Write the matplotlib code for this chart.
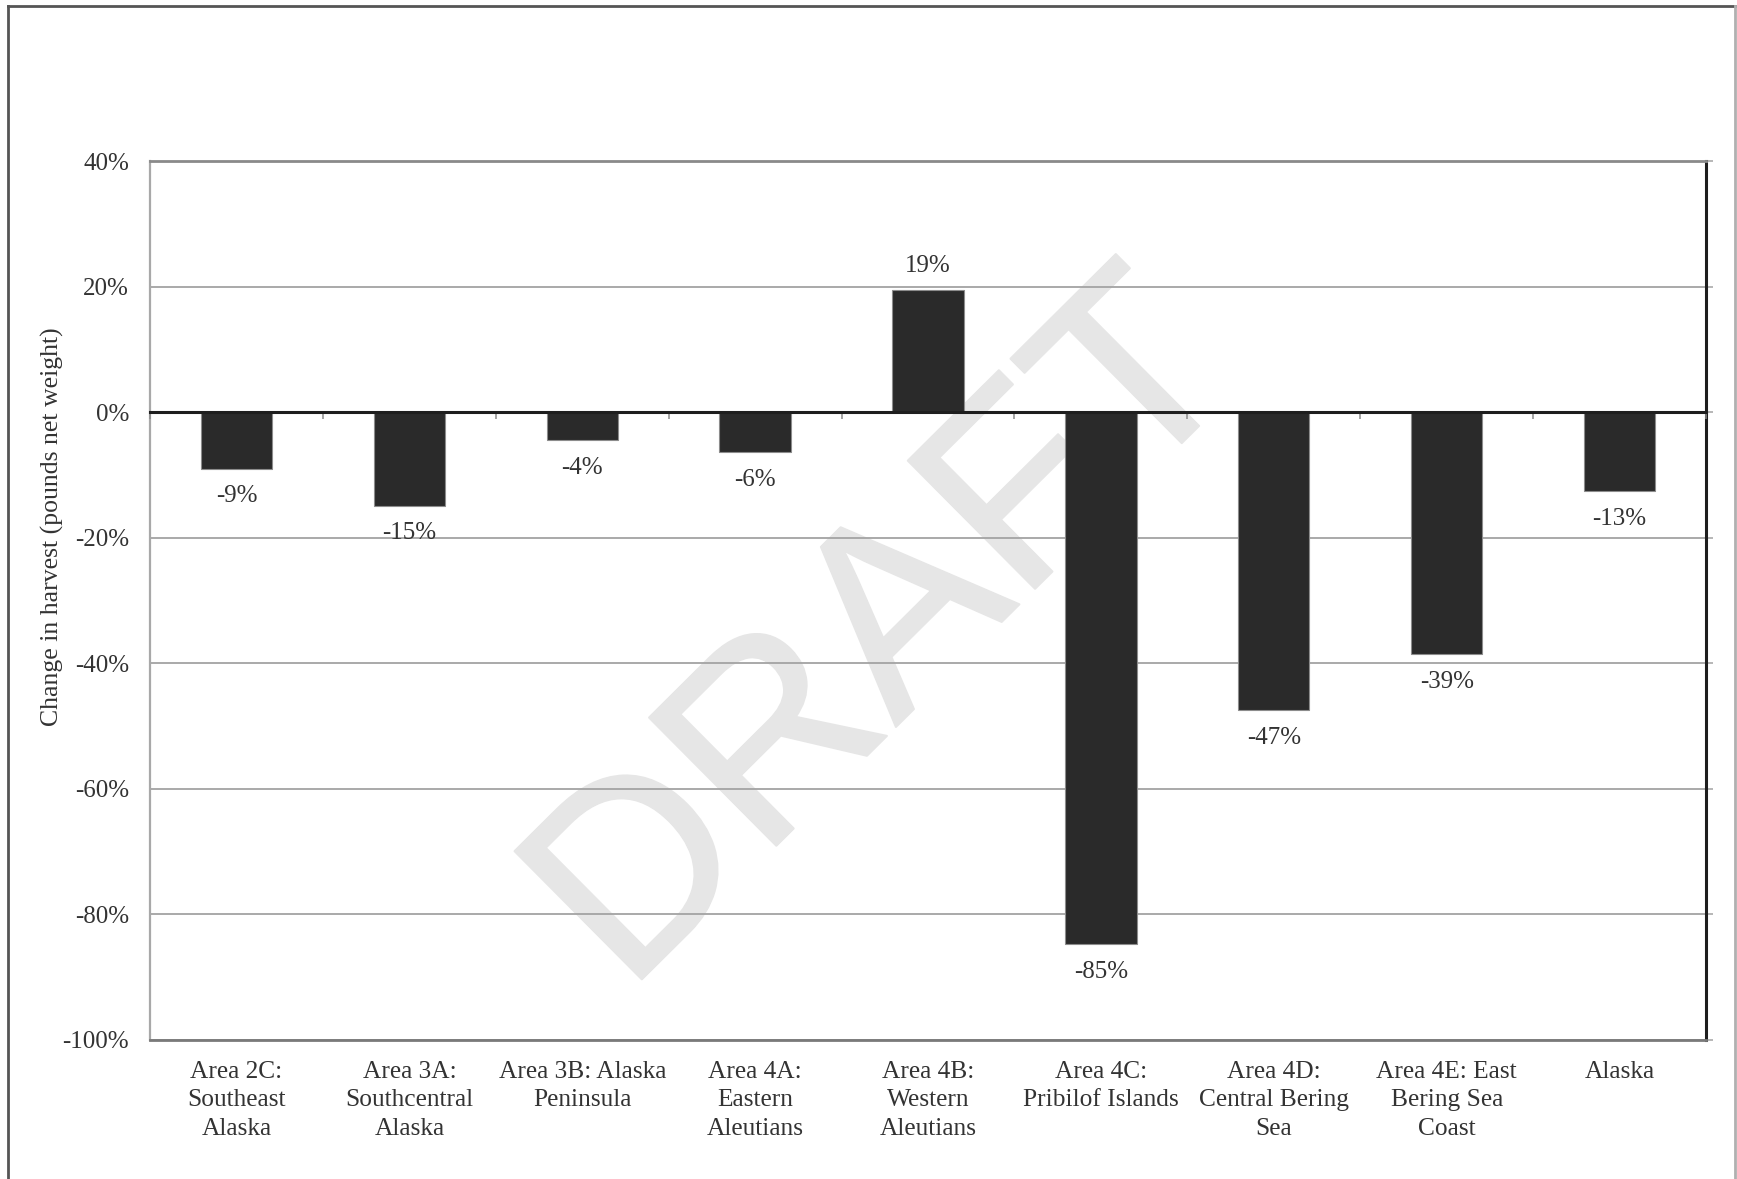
import numpy as np
import matplotlib
matplotlib.use("Agg")
import matplotlib.pyplot as plt
from matplotlib.lines import Line2D
from matplotlib import patheffects

# Percent change in harvest by regulatory area
areas = [
    "Area 2C:\nSoutheast\nAlaska",
    "Area 3A:\nSouthcentral\nAlaska",
    "Area 3B: Alaska\nPeninsula",
    "Area 4A:\nEastern\nAleutians",
    "Area 4B:\nWestern\nAleutians",
    "Area 4C:\nPribilof Islands",
    "Area 4D:\nCentral Bering\nSea",
    "Area 4E: East\nBering Sea\nCoast",
    "Alaska",
]
change_pct = [-9.0, -14.9, -4.4, -6.4, 19.4, -84.7, -47.4, -38.6, -12.6]
y_ticks = [40, 20, 0, -20, -40, -60, -80, -100]

W, H = 1737, 1179
plt.rcParams["font.family"] = ["Liberation Serif", "DejaVu Serif"]
text_color = "#333333"

fig = plt.figure(figsize=(W / 100, H / 100), dpi=100)
fig.patch.set_facecolor("white")

left, right, top, bottom = 150, 1706, 161, 1040
ax = fig.add_axes([left / W, 1 - bottom / H, (right - left) / W, (bottom - top) / H])

x = np.arange(len(areas))
ymin, ymax = min(y_ticks), max(y_ticks)
ax.set_xlim(-0.5, len(areas) - 0.5)
ax.set_ylim(ymin, ymax)

ax.set_axisbelow(True)
ax.yaxis.grid(True, color="#a3a3a3", linewidth=1.3)

# Watermark behind the bars
ax.text(889 / W, 1 - 638 / H, "DRAFT", transform=fig.transFigure,
        fontsize=189, family="Liberation Sans", color="#e6e6e6",
        rotation=44.8, rotation_mode="anchor", ha="center", va="center",
        zorder=0.3,
        path_effects=[patheffects.withStroke(linewidth=1.5, foreground="#e6e6e6")])

bars = ax.bar(x, change_pct, width=0.412, color="#2a2a2a",
              edgecolor="#8c8c8c", linewidth=0.8, zorder=2)

for xi, v in zip(x, change_pct):
    off = 17.5 if v >= 0 else -20
    ax.annotate(f"{v:.0f}%", (xi, v), xytext=(0, off), textcoords="offset points",
                ha="center", va="center", fontsize=18, color=text_color, zorder=4)

# Category labels along the bottom
ax.set_xticks(x)
ax.set_xticklabels(areas, fontsize=18.3, color=text_color, linespacing=1.38)
ax.tick_params(axis="x", length=0, pad=15)

ax.set_yticks(y_ticks)
ax.set_yticklabels([f"{t}%" for t in y_ticks], fontsize=18, color=text_color)
ax.tick_params(axis="y", left=False, right=True, labelleft=True, labelright=False,
               direction="out", length=5, width=1.1, color="#a3a3a3", pad=10)

for side, col, lw in [("left", "#a8a8a8", 1.6), ("top", "#8a8a8a", 2.0),
                      ("bottom", "#7a7a7a", 2.0), ("right", "#1e1e1e", 2.2)]:
    ax.spines[side].set_color(col)
    ax.spines[side].set_linewidth(lw)

# Zero baseline with category-boundary ticks
zero_pos = (0 - ymin) / (ymax - ymin)
sec = ax.secondary_xaxis(zero_pos)
sec.set_xticks(np.arange(len(areas) + 1) - 0.5)
sec.tick_params(axis="x", direction="in", length=5, width=1.1, color="#8a8a8a",
                labeltop=False, labelbottom=False)
for s in sec.spines.values():
    s.set_color("#1e1e1e")
    s.set_linewidth(2.2)
sec.set_zorder(3)

fig.text(52 / W, 1 - 527 / H, "Change in harvest (pounds net weight)",
         rotation=90, ha="center", va="center", fontsize=18.5, color=text_color)

# Outer chart frame
frame_kw = dict(transform=fig.transFigure, linewidth=2.0)
fig.add_artist(Line2D([8 / W, 8 / W], [0, 1 - 6 / H], color="#555555", **frame_kw))
fig.add_artist(Line2D([8 / W, 1735 / W], [1 - 6 / H, 1 - 6 / H], color="#555555", **frame_kw))
fig.add_artist(Line2D([1735 / W, 1735 / W], [0, 1 - 6 / H], color="#b0b0b0", **frame_kw))

fig.savefig("out.png", dpi=100)
